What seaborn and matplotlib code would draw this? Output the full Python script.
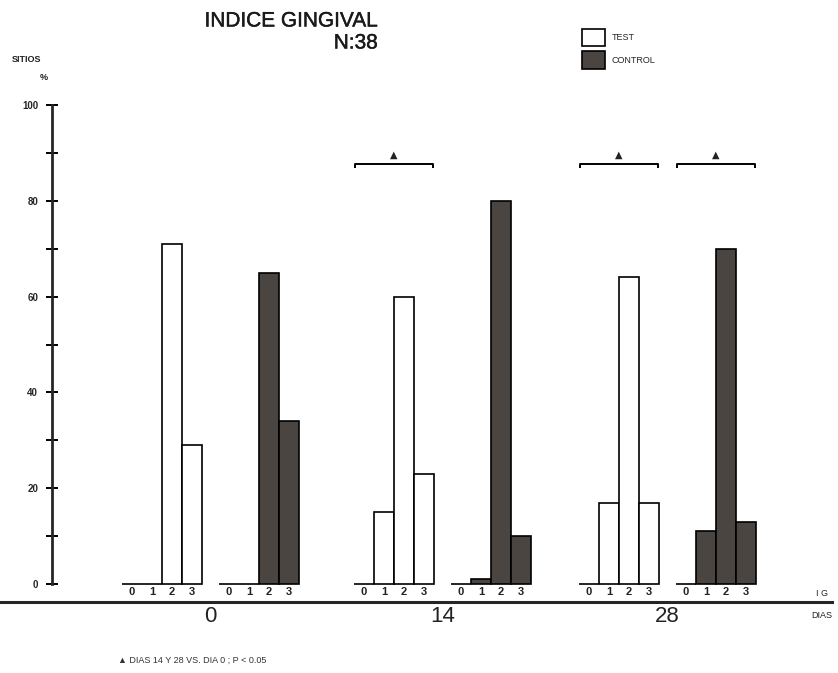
import matplotlib
matplotlib.use("Agg")
import matplotlib.pyplot as plt
import matplotlib.patheffects as pe
from matplotlib.ticker import MultipleLocator
import pandas as pd
import seaborn as sns

# ---- data: % of sites per gingival index score (0-3), by day and group ----
days = ["0", "14", "28"]
scores = ["0", "1", "2", "3"]
test_pct = [
    [0, 0, 71, 29],    # day 0
    [0, 15, 60, 23],   # day 14
    [0, 17, 64, 17],   # day 28
]
control_pct = [
    [0, 0, 65, 34],    # day 0
    [0, 1, 80, 10],    # day 14
    [0, 11, 70, 13],   # day 28
]
groups = ["TEST", "CONTROL"]
y_ticks = [0, 20, 40, 60, 80, 100]
# significant comparisons (day index, group) vs day 0
signif = [(1, "TEST"), (2, "TEST"), (2, "CONTROL")]

# ---- layout ----
DAY_OFFSETS = [0.0, 11.6, 22.85]   # start of each day cluster (in bar widths)
CTRL_SHIFT = 4.85                  # offset of the control block inside a cluster
DARK = "#4b4542"

rows = []
for d_i, day in enumerate(days):
    for grp, vals, shift in (("TEST", test_pct[d_i], 0.0),
                             ("CONTROL", control_pct[d_i], CTRL_SHIFT)):
        for s_i, (score, v) in enumerate(zip(scores, vals)):
            rows.append(dict(dia=day, grupo=grp, ig=score, pct=v,
                             pos=DAY_OFFSETS[d_i] + shift + s_i))
df = pd.DataFrame(rows)

sns.set_theme(style="ticks")
plt.rcParams["font.family"] = ["Liberation Sans", "DejaVu Sans"]

W, H = 838, 673
fig = plt.figure(figsize=(W / 100, H / 100), dpi=100)
ax = fig.add_axes([0, (H - 602) / H, 832 / W, (602 - 60) / H])

palette = {"TEST": "white", "CONTROL": DARK}
for grp in groups:
    sub = df[df["grupo"] == grp]
    sns.barplot(data=sub, x="pos", y="pct", native_scale=True, width=1.0,
                color=palette[grp], saturation=1, edgecolor="black",
                linewidth=1.2, errorbar=None, label=grp, ax=ax)

ax.set_xlim(-6.6, 35.0)
ax.set_ylim(-3.76, 109.4)
ax.set_xlabel("")
ax.set_ylabel("")

# axes lines
for s in ("top", "right"):
    ax.spines[s].set_visible(False)
ax.spines["left"].set_position(("data", -4.0))
ax.spines["left"].set_bounds(0, 100)
ax.spines["left"].set_linewidth(2)
ax.spines["bottom"].set_linewidth(2.2)

ax.set_yticks(y_ticks)
ax.set_yticklabels([str(t) for t in y_ticks], fontsize=7, fontweight="bold")
ax.yaxis.set_minor_locator(MultipleLocator(10))
ax.tick_params(axis="y", which="both", direction="inout", length=8, width=1.4,
               pad=6, color="black")

# day labels under the axis
centers = [DAY_OFFSETS[d_i] + (CTRL_SHIFT + 3) / 2 for d_i in range(len(days))]
ax.set_xticks(centers)
ax.set_xticklabels(days, fontsize=16, color="#222222")
ax.tick_params(axis="x", length=0, pad=3)

# gingival index score under each bar
for _, r in df.iterrows():
    ax.text(r["pos"], -1.75, r["ig"], ha="center", va="center",
            fontsize=8, fontweight="bold", color="#222222")

# significance brackets
for d_i, grp in signif:
    sub = df[(df["dia"] == days[d_i]) & (df["grupo"] == grp)]
    x0, x1 = sub["pos"].min() - 0.45, sub["pos"].max() + 0.45
    yb = 87.6
    ax.plot([x0, x0, x1, x1], [yb - 0.8, yb, yb, yb - 0.8],
            color="black", lw=1.4, solid_capstyle="butt")
    ax.text((x0 + x1) / 2, yb + 1.0, "\u25b2", ha="center", va="bottom",
            fontsize=7, family=["DejaVu Sans"], color="#222222")

# legend
ax.legend(loc="upper left", bbox_to_anchor=(582 / W, 1 - 29 / H),
          bbox_transform=fig.transFigure, frameon=False, fontsize=6.5,
          handlelength=2.5, handleheight=2.6, handletextpad=0.8,
          labelspacing=0.55, borderpad=0, borderaxespad=0)

# titles and annotations
thick = [pe.withStroke(linewidth=0.3, foreground="#1a1a1a")]
fig.text(378 / W, 1 - 21 / H, "INDICE GINGIVAL", ha="right", va="center",
         fontsize=15, color="#1a1a1a", path_effects=thick)
fig.text(378 / W, 1 - 43 / H, "N:38", ha="right", va="center",
         fontsize=15, color="#1a1a1a", path_effects=thick)
fig.text(12 / W, 1 - 59 / H, "SITIOS", ha="left", va="center",
         fontsize=6.5, fontweight="bold", color="#222222")
fig.text(44 / W, 1 - 77 / H, "%", ha="center", va="center",
         fontsize=6.5, fontweight="bold", color="#222222")
fig.text(822 / W, 1 - 593 / H, "I G", ha="center", va="center",
         fontsize=6.5, color="#222222")
fig.text(822 / W, 1 - 616 / H, "DIAS", ha="center", va="center",
         fontsize=6.5, color="#222222")
fig.text(118 / W, 1 - 660 / H, "\u25b2 DIAS 14 Y 28 VS. DIA 0 ; P < 0.05",
         ha="left", va="center", fontsize=6.5, color="#333333")

fig.savefig("out.png", dpi=100, facecolor="white")
